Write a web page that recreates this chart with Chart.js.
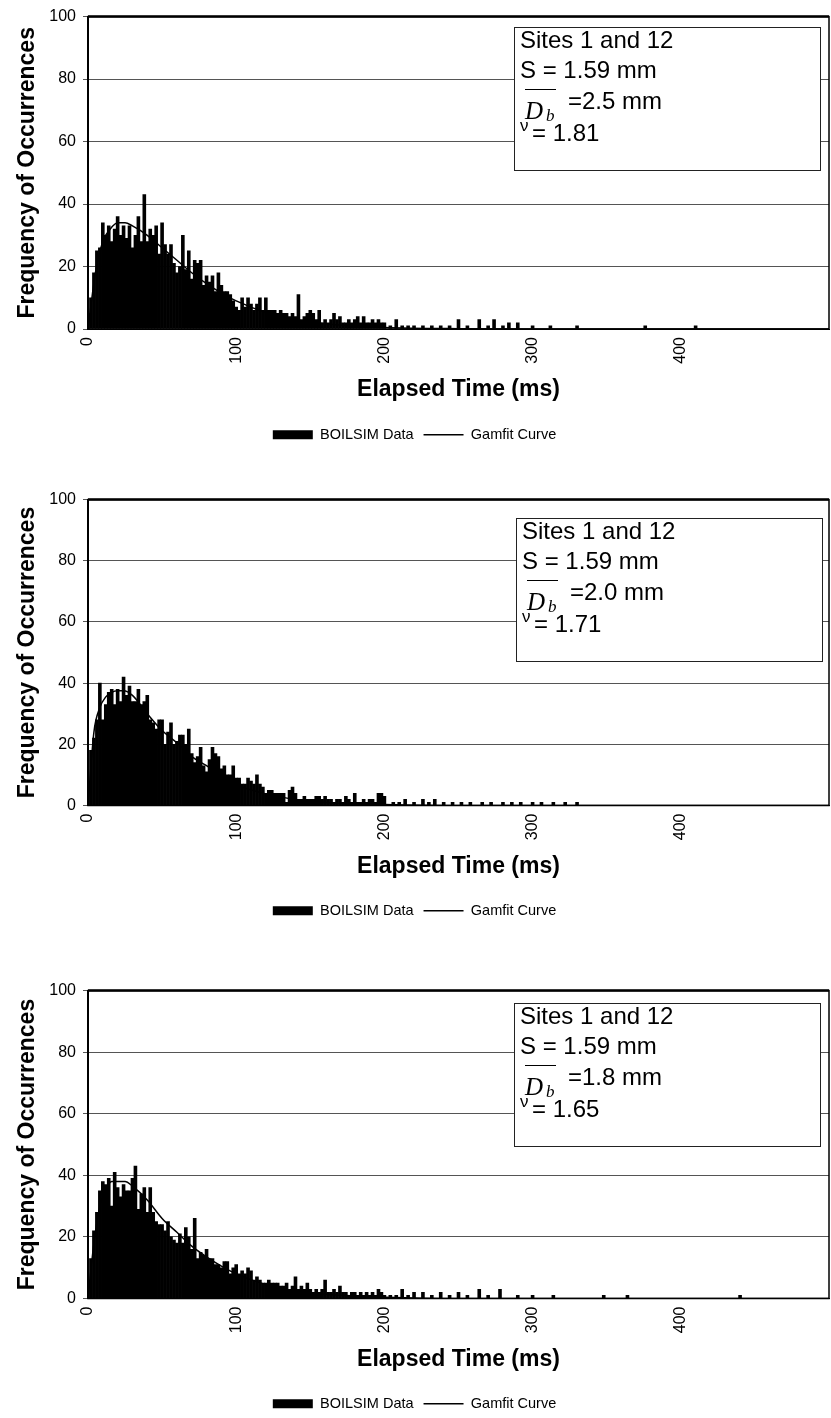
<!DOCTYPE html>
<html>
<head>
<meta charset="utf-8">
<script src="https://cdn.jsdelivr.net/npm/chart.js@4.4.1/dist/chart.umd.min.js"></script>
<style>
  body { margin:0; background:#fff; width:831px; height:1418px; position:relative; overflow:hidden; font-family:"Liberation Sans", Arial, sans-serif; }
  .wrap { position:absolute; left:0; width:831px; }
  .note { position:absolute; width:305px; height:142px; border:1px solid #222; background:#fff; }
  .note span { position:absolute; white-space:nowrap; line-height:1; color:#000; }
  .big { font-size:24px; }
  .dd { font-family:"Liberation Serif", "Times New Roman", serif; font-style:italic; font-size:25px; }
  .sb { font-family:"Liberation Serif", "Times New Roman", serif; font-style:italic; font-size:17px; }
  .ov { height:0; width:31px; border-top:1.5px solid #000; }
  .nu { font-size:17px; }
</style>
</head>
<body>
<div class="wrap" style="top:0px"><canvas id="c1" width="831" height="452"></canvas></div>
<div class="wrap" style="top:483px"><canvas id="c2" width="831" height="445"></canvas></div>
<div class="wrap" style="top:974px"><canvas id="c3" width="831" height="447"></canvas></div>

<script>
// histogram bins are 2 ms wide, first bin at 0 ms
const binWidthMs = 2;

// counts per bin, 0..200 ms
const counts1 = [5,10,18,25,26,34,30,33,28,32, 36,30,33,29,33,26,30,36,28,43,
  28,32,30,33,24,34,27,24,27,21, 18,20,30,19,25,16,22,21,22,14,
  17,15,17,12,18,14,12,12,11,9, 7,6,10,7,10,8,6,8,10,6,
  10,6,6,6,5,6,5,5,4,5, 4,11,3,4,5,6,5,3,6,2,
  3,2,3,5,3,4,2,2,3,2, 3,4,2,4,2,2,3,2,3,2, 2];
const counts2 = [8,18,22,28,40,28,33,37,38,33, 38,34,42,36,39,34,34,38,33,34,
  36,28,27,25,28,28,20,24,27,20, 21,23,23,20,25,17,14,16,19,13,
  11,15,19,17,16,12,13,10,10,13, 9,9,7,7,9,8,7,10,7,6,
  4,5,5,4,4,4,4,1,5,6, 4,2,2,3,2,2,2,3,3,2,
  3,2,2,1,2,2,1,3,2,1, 4,1,1,2,1,2,2,1,4,4, 3];
const counts3 = [6,13,22,28,35,38,37,39,30,41, 36,33,37,35,35,39,43,29,34,36,
  28,36,28,25,24,24,22,25,20,19, 18,21,18,23,20,16,26,13,15,14,
  16,13,13,11,11,10,12,12,8,10, 11,8,9,8,10,9,6,7,6,5,
  5,6,5,5,5,4,4,5,3,4, 7,3,4,3,5,3,2,3,2,3,
  6,2,2,3,2,4,2,2,1,2, 2,1,2,1,2,1,2,1,3,2, 1];

// sparse tail beyond 200 ms
const tailTimes1 = [204,208,212,216,220,226,232,238,244,250,256,264,270,274,280,284,290,300,312,330,376,410];
const tailCounts1 = [1,3,1,1,1,1,1,1,1,3,1,3,1,3,1,2,2,1,1,1,1,1];
const tailTimes2 = [206,210,214,220,226,230,234,240,246,252,258,266,272,280,286,292,300,306,314,322,330];
const tailCounts2 = [1,1,2,1,2,1,2,1,1,1,1,1,1,1,1,1,1,1,1,1,1];
const tailTimes3 = [204,208,212,216,220,226,232,238,244,250,256,264,270,278,290,300,314,348,364,440];
const tailCounts3 = [1,1,3,1,2,2,1,2,1,2,1,3,1,3,1,1,1,1,1,1];

// Gamfit curve
const curveTimes1 = [0,5,10,15,20,25,30,40,50,60,70,80,90,100,120,140,160,180,200,250,300,500];
const curveValues1 = [0,18,28,32,34,34,33,30,26,22,18,14.5,11.5,9,5.3,3,1.7,1,0.5,0.1,0,0];
const curveTimes2 = [0,4,8,12,16,20,24,30,40,50,60,70,80,90,100,120,140,160,180,200,250,500];
const curveValues2 = [0,24,32,35.5,37,37.5,37.5,36,30,24.5,20.5,16,13,9.5,6.8,3.8,2,1,0.5,0.3,0,0];
const curveTimes3 = [0,4,8,12,16,20,25,30,40,50,60,70,80,90,100,120,140,160,180,200,250,500];
const curveValues3 = [0,18,30,35.5,38,38,38,36.5,32,26,21.5,17,13.5,10.5,8,4.5,2.5,1.4,0.8,0.4,0,0];

const sites = "Sites 1 and 12";
const spacing = "S = 1.59 mm";
const diameters = ["2.5", "2.0", "1.8"];
const nus = ["1.81", "1.71", "1.65"];

Chart.defaults.font.family = '"Liberation Sans", Arial, sans-serif';
Chart.defaults.color = '#000';

function toBars(counts, tailT, tailV) {
  const pts = counts.map((v, i) => ({ x: i * binWidthMs, y: v }));
  tailT.forEach((t, i) => pts.push({ x: t, y: tailV[i] }));
  return pts;
}
function toCurve(ts, vs) {
  return ts.map((t, i) => ({ x: t, y: vs[i] }));
}

// box round the plot area
const frame = {
  id: 'frame',
  afterDatasetsDraw(chart) {
    const { ctx, chartArea: a } = chart;
    ctx.save();
    ctx.strokeStyle = '#000';
    ctx.lineWidth = 1.5;
    ctx.strokeRect(a.left, a.top, a.right - a.left, a.bottom - a.top);
    ctx.lineWidth = 2.5;
    ctx.beginPath();
    ctx.moveTo(a.left, a.top);
    ctx.lineTo(a.right, a.top);
    ctx.stroke();
    ctx.restore();
  }
};

function makeChart(id, barData, curveData, xAxisHeight, titlePad) {
  return new Chart(document.getElementById(id), {
    type: 'bar',
    data: {
      datasets: [{
        type: 'bar',
        label: 'BOILSIM Data',
        data: barData,
        backgroundColor: '#000',
        borderWidth: 0,
        barPercentage: 1,
        categoryPercentage: 1,
        order: 1
      }, {
        type: 'line',
        label: 'Gamfit Curve',
        data: curveData,
        borderColor: '#000',
        borderWidth: 1.5,
        pointRadius: 0,
        fill: false,
        cubicInterpolationMode: 'monotone',
        order: 0
      }]
    },
    options: {
      responsive: false,
      animation: false,
      layout: { padding: { top: 16, right: 2, left: 0, bottom: 0 } },
      scales: {
        x: {
          type: 'linear',
          min: 0,
          max: 500,
          offset: false,
          grid: { display: false, drawTicks: false },
          border: { color: '#000', width: 1 },
          ticks: {
            stepSize: 100,
            minRotation: 90,
            maxRotation: 90,
            padding: 8,
            font: { size: 16 }
          },
          afterBuildTicks: s => { s.ticks = s.ticks.filter(t => t.value < 500); },
          title: {
            display: true,
            text: 'Elapsed Time (ms)',
            font: { size: 23, weight: 'bold' },
            padding: { top: 0, bottom: titlePad }
          },
          afterFit: s => { s.height = xAxisHeight; }
        },
        y: {
          min: 0,
          max: 100,
          grid: { color: '#555', lineWidth: 1, tickLength: 5 },
          border: { color: '#000', width: 2 },
          ticks: { stepSize: 20, padding: 7, font: { size: 16 } },
          title: {
            display: true,
            text: 'Frequency of Occurrences',
            font: { size: 23, weight: 'bold' },
            padding: { top: 14, bottom: 0 }
          },
          afterFit: s => { s.width = 88; }
        }
      },
      plugins: {
        legend: {
          position: 'bottom',
          labels: {
            usePointStyle: true,
            pointStyleWidth: 40,
            boxHeight: 9,
            padding: 10,
            font: { size: 14.5 },
            sort: (a, b) => a.datasetIndex - b.datasetIndex,
            generateLabels: chart => Chart.defaults.plugins.legend.labels.generateLabels(chart).map(it =>
              Object.assign(it, it.datasetIndex === 0
                ? { pointStyle: 'rect', fillStyle: '#000', lineWidth: 0 }
                : { pointStyle: 'line', strokeStyle: '#000', lineWidth: 1.5 }))
          }
        },
        tooltip: { enabled: false }
      }
    },
    plugins: [frame]
  });
}

makeChart('c1', toBars(counts1, tailTimes1, tailCounts1), toCurve(curveTimes1, curveValues1), 88.5, 14);
makeChart('c2', toBars(counts2, tailTimes2, tailCounts2), toCurve(curveTimes2, curveValues2), 88, 13);
makeChart('c3', toBars(counts3, tailTimes3, tailCounts3), toCurve(curveTimes3, curveValues3), 88, 13);

// text boxes in the top right of each plot
const notePos = [[514, 27], [516, 518], [514, 1003]];
notePos.forEach((p, i) => {
  const d = document.createElement('div');
  d.className = 'note';
  d.style.left = p[0] + 'px';
  d.style.top = p[1] + 'px';
  d.innerHTML =
    '<span class="big" style="left:5px;top:0px">' + sites + '</span>' +
    '<span class="big" style="left:5px;top:30px">' + spacing + '</span>' +
    '<span class="ov" style="left:10px;top:61px"></span>' +
    '<span class="dd" style="left:10px;top:70px">D</span>' +
    '<span class="sb" style="left:31px;top:79px">b</span>' +
    '<span class="big" style="left:53px;top:61px">=' + diameters[i] + ' mm</span>' +
    '<span class="nu" style="left:5px;top:89px">&nu;</span>' +
    '<span class="big" style="left:17px;top:93px">= ' + nus[i] + '</span>';
  document.body.appendChild(d);
});
</script>
</body>
</html>
